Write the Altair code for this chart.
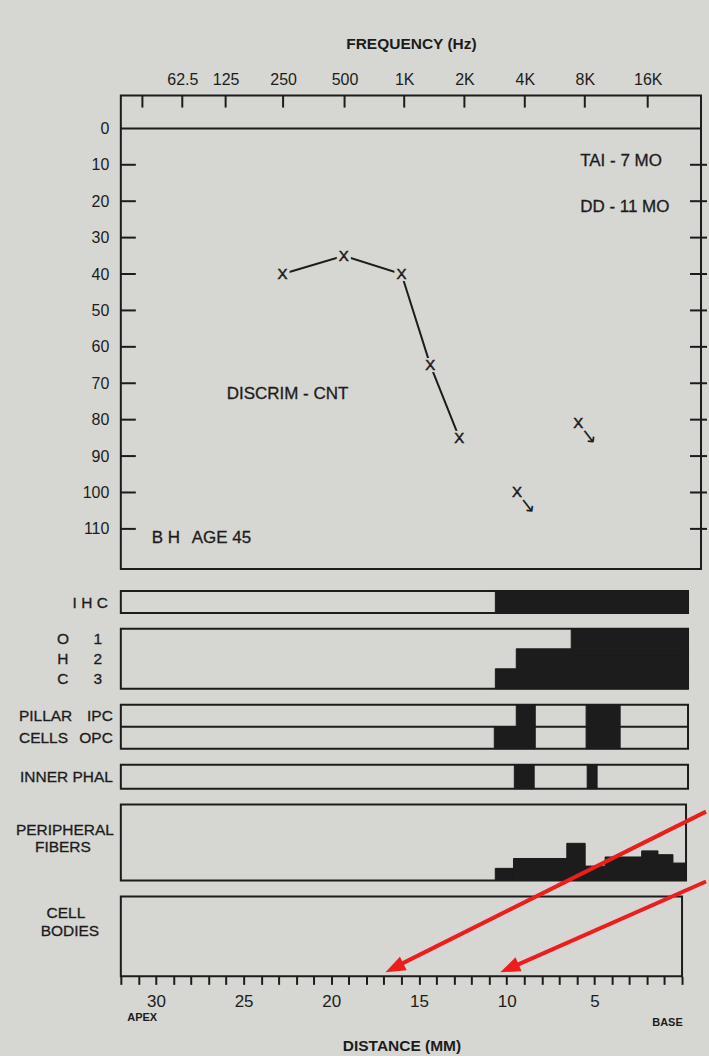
import altair as alt
import pandas as pd

BG = "#d6d6d2"
INK = "#1c1c1c"
RED = "#ee1d1d"
FONT = "Liberation Sans"

# ---------------- audiogram (top panel) ----------------
freq_labels = ["", "62.5", "125", "250", "500", "1K", "2K", "4K", "8K", "16K"]
freq_place_mm = [30.81, 28.61, 26.22, 23.05, 19.66, 16.37, 13.05, 9.72, 6.41, 2.94]
db_labels = [0, 10, 20, 30, 40, 50, 60, 70, 80, 90, 100, 110]
db_ticks = [10, 20, 30, 40, 50, 60, 70, 80, 90, 100, 110]

thr_freq = ["250", "500", "1K", "1.5K", "2K", "4K", "8K"]
thr_place_mm = [23.08, 19.70, 16.52, 14.93, 13.33, 10.15, 6.77]
thr_db = [40, 35, 40, 65, 85, 100, 81]
thr_no_response = [False, False, False, False, False, True, True]

# ---------------- histology bands (distance in mm from base) ----------------
ihc_start = [10.87]
ihc_end = [0.0]
ohc_rows = ["1", "2", "3"]
ohc_letters = ["O", "H", "C"]
ohc_start = [6.59, 9.69, 10.87]
ohc_end = [0.0, 0.0, 0.0]
pillar_rows = ["IPC", "OPC"]
pillar_names = ["PILLAR", "CELLS"]
pillar_row = ["IPC", "IPC", "OPC", "OPC"]
pillar_start = [9.69, 5.75, 10.93, 5.75]
pillar_end = [8.62, 3.83, 8.62, 3.83]
phal_start = [9.80, 5.69]
phal_end = [8.68, 5.13]
fiber_start = [10.80, 9.77, 6.75, 5.71, 4.58, 2.51, 1.59, 0.74]
fiber_end = [9.77, 6.75, 5.71, 4.58, 2.51, 1.59, 0.74, 0.0]
fiber_loss = [16, 29, 49, 19, 31, 39, 34, 23]
dist_ticks = list(range(0, 33))
end_labels = ["APEX", "BASE"]
end_label_mm = [30.78, 0.83]

AUD_W, AUD_H = 581, 474
BW = 568
ONE = pd.DataFrame({"k": [0]})


def xscale():
    return alt.Scale(domain=[32, 0], nice=False, zero=False)


def note(txt, x, y, size=15.5, align="left", weight="normal", font=FONT, color=INK):
    return alt.Chart(ONE).mark_text(
        text=txt, font=font, fontSize=size, align=align, baseline="middle",
        fontWeight=weight, color=color, stroke=color, strokeWidth=0.3
    ).encode(x=alt.value(x), y=alt.value(y))


# ---- audiogram encodings
label_expr = (
    "[" + ",".join("'" + s + "'" for s in freq_labels) + "][indexof(["
    + ",".join(str(v) for v in freq_place_mm) + "], datum.value)]"
)
X_AUD = alt.X(
    "mm:Q", scale=xscale(),
    axis=alt.Axis(
        orient="top", values=freq_place_mm, labelExpr=label_expr, ticks=False,
        domain=False, grid=False, labelPadding=8, labelFontSize=16,
        labelOverlap=False, labelFlush=False, labelColor=INK,
        title="FREQUENCY (Hz)", titleFontSize=15.5, titleFontWeight="bold",
        titlePadding=20, titleColor=INK,
    ),
)
Y_AUD = alt.Y(
    "db:Q", scale=alt.Scale(domain=[-9, 121], nice=False, zero=False, reverse=True),
    axis=alt.Axis(values=db_labels, ticks=False, domain=False, grid=False,
                  labelPadding=12, labelFontSize=16, labelColor=INK, title=None),
)

freq_df = pd.DataFrame({"mm": freq_place_mm, "label": freq_labels})
lvl_df = pd.DataFrame({"db": db_ticks})
zero_df = pd.DataFrame({"db": [0]})
thr_df = pd.DataFrame({
    "freq": thr_freq, "mm": thr_place_mm, "db": thr_db,
    "nr": thr_no_response, "idx": list(range(len(thr_freq))),
})

f_ticks = alt.Chart(freq_df).mark_rule(color=INK, strokeWidth=2).encode(
    x=X_AUD, y=alt.value(0), y2=alt.value(12))
l_ticks = alt.Chart(lvl_df).mark_rule(color=INK, strokeWidth=2).encode(
    y=Y_AUD, x=alt.value(0), x2=alt.value(15))
r_ticks = alt.Chart(lvl_df).mark_rule(color=INK, strokeWidth=2).encode(
    y=Y_AUD, x=alt.value(AUD_W - 11), x2=alt.value(AUD_W + 6))
zero_line = alt.Chart(zero_df).mark_rule(color=INK, strokeWidth=2).encode(
    y=Y_AUD, x=alt.value(0), x2=alt.value(AUD_W))
thr_line = alt.Chart(thr_df).transform_filter("!datum.nr").mark_line(
    color=INK, strokeWidth=2).encode(x=X_AUD, y=Y_AUD, order="idx:Q")
gaps = alt.Chart(thr_df).mark_point(
    shape="square", filled=True, color=BG, size=200, opacity=1).encode(x=X_AUD, y=Y_AUD)
x_marks = alt.Chart(thr_df).mark_text(
    text="X", font=FONT, fontSize=15, color=INK, stroke=INK, strokeWidth=0.5
).encode(x=X_AUD, y=Y_AUD)
nr_arrows = alt.Chart(thr_df).transform_filter("datum.nr").mark_text(
    text="\u2192", font="DejaVu Sans", fontSize=20, angle=52, dx=17, color=INK
).encode(x=X_AUD, y=Y_AUD)

aud = alt.layer(
    f_ticks, l_ticks, r_ticks, zero_line, thr_line, gaps, x_marks, nr_arrows,
    note("TAI - 7 MO", 460, 65, size=17), note("DD - 11 MO", 460, 112, size=17),
    note("DISCRIM - CNT", 106, 299, size=17), note("B H", 31, 443, size=17),
    note("AGE 45", 71, 443, size=17),
).properties(width=AUD_W, height=AUD_H)


# ---- band panels
def band_rects(df, rows, w):
    return alt.Chart(df).mark_rect(color=INK, stroke=INK, strokeWidth=1).encode(
        x=alt.X("start:Q", scale=xscale(), axis=None), x2="end:Q",
        y=alt.Y("row:N", scale=alt.Scale(domain=rows, paddingInner=0, paddingOuter=0), axis=None),
    )


def row_text(df, yenc, x, field, align):
    return alt.Chart(df).mark_text(
        font=FONT, fontSize=15.5, color=INK, align=align, stroke=INK, strokeWidth=0.3
    ).encode(y=yenc, x=alt.value(x), text=field)


ihc_df = pd.DataFrame({"row": ["r"] * len(ihc_start), "start": ihc_start, "end": ihc_end})
ihc = alt.layer(
    band_rects(ihc_df, ["r"], BW),
    note("I H C", -13, 12, align="right"),
).properties(width=BW, height=22)

ohc_df = pd.DataFrame({"row": ohc_rows, "start": ohc_start, "end": ohc_end})
ohc_lab = pd.DataFrame({"row": ohc_rows, "letter": ohc_letters})
OHC_Y = alt.Y("row:N", scale=alt.Scale(domain=ohc_rows, paddingInner=0, paddingOuter=0), axis=None)
ohc = alt.layer(
    band_rects(ohc_df, ohc_rows, BW),
    row_text(ohc_lab, OHC_Y, -58, "letter:N", "center"),
    row_text(ohc_lab, OHC_Y, -23, "row:N", "center"),
).properties(width=BW, height=60)

pil_df = pd.DataFrame({"row": pillar_row, "start": pillar_start, "end": pillar_end})
pil_lab = pd.DataFrame({"row": pillar_rows, "name": pillar_names})
PIL_Y = alt.Y("row:N", scale=alt.Scale(domain=pillar_rows, paddingInner=0, paddingOuter=0), axis=None)
pil = alt.layer(
    band_rects(pil_df, pillar_rows, BW),
    alt.Chart(ONE).mark_rule(color=INK, strokeWidth=2).encode(
        x=alt.value(0), x2=alt.value(BW), y=alt.value(22)),
    row_text(pil_lab, PIL_Y, -102, "name:N", "left"),
    row_text(pil_lab, PIL_Y, -8, "row:N", "right"),
).properties(width=BW, height=44)

phal_df = pd.DataFrame({"row": ["r"] * len(phal_start), "start": phal_start, "end": phal_end})
phal = alt.layer(
    band_rects(phal_df, ["r"], BW),
    note("INNER PHAL", -8, 12, align="right"),
).properties(width=BW, height=24)

FW = 566
fib_df = pd.DataFrame({"start": fiber_start, "end": fiber_end, "loss": fiber_loss})
fib = alt.layer(
    alt.Chart(fib_df).mark_rect(color=INK, stroke=INK, strokeWidth=1).encode(
        x=alt.X("start:Q", scale=xscale(), axis=None), x2="end:Q",
        y=alt.Y("loss:Q", scale=alt.Scale(domain=[0, 100], nice=False), axis=None),
        y2=alt.datum(0),
    ),
    note("PERIPHERAL", -56, 25, align="center"),
    note("FIBERS", -58, 42, align="center"),
).properties(width=FW, height=76)

CW, CH = 562, 80
X_CELL = alt.X(
    "mm:Q", scale=xscale(),
    axis=alt.Axis(
        values=dist_ticks,
        labelExpr="datum.value % 5 == 0 && datum.value > 0 && datum.value < 32 ? datum.label : ''",
        tickSize=8, tickWidth=2, tickColor=INK, domain=False, grid=False,
        labelPadding=9, labelFontSize=17, labelColor=INK, labelOverlap=False,
        labelFlush=False, title="DISTANCE (MM)", titleFontSize=15.5,
        titleFontWeight="bold", titlePadding=29, titleColor=INK,
    ),
)
apex_df = pd.DataFrame({"mm": [end_label_mm[0]], "t": [end_labels[0]]})
base_df = pd.DataFrame({"mm": [end_label_mm[1]], "t": [end_labels[1]]})


def arrow(x1, y1, x2, y2, tipx, tipy, ang):
    line = alt.Chart(ONE).mark_rule(color=RED, strokeWidth=4).encode(
        x=alt.value(x1), y=alt.value(y1), x2=alt.value(x2), y2=alt.value(y2))
    head = alt.Chart(ONE).mark_point(
        shape="M0,0L-1,-0.38L-1,0.38Z", filled=True, color=RED, opacity=1,
        size=1600, angle=ang, strokeWidth=0,
    ).encode(x=alt.value(tipx), y=alt.value(tipy))
    return [line, head]


cells = alt.layer(
    alt.Chart(apex_df).mark_text(font=FONT, fontSize=11, fontWeight="bold", color=INK).encode(
        x=X_CELL, y=alt.value(CH + 42), text="t:N"),
    alt.Chart(base_df).mark_text(font=FONT, fontSize=11, fontWeight="bold", color=INK).encode(
        x=X_CELL, y=alt.value(CH + 47), text="t:N"),
    note("CELL", -55, 17, align="center"),
    note("BODIES", -51, 35, align="center"),
    *arrow(586, -85, 274, 71, 265, 76, 153.4),
    *arrow(586, -15, 389, 72, 380, 76, 156.2),
).properties(width=CW, height=CH)

lower = alt.vconcat(ihc, ohc, pil, phal, fib, cells, spacing=16, bounds="flush").resolve_scale(
    x="independent", y="independent")

chart = alt.vconcat(aud, lower, spacing=22, bounds="flush").resolve_scale(
    x="independent", y="independent"
).configure(
    background=BG, padding={"left": 14, "top": 35, "right": 0, "bottom": 0}, font=FONT
).configure_view(stroke=INK, strokeWidth=2, fill=None)

chart.save("out.html", embed_options={"renderer": "svg", "actions": False})
